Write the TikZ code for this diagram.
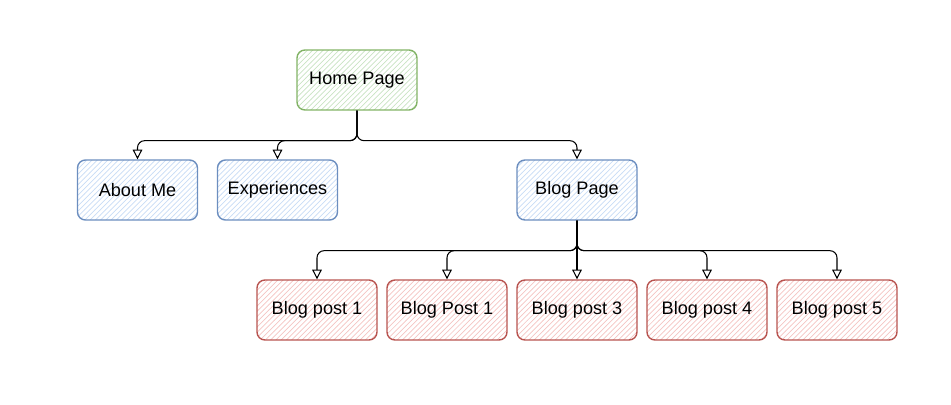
\documentclass[tikz,border=0pt]{standalone}
\usepackage{fontspec}
\setmainfont{Liberation Sans}
\usetikzlibrary{arrows.meta,patterns}
\definecolor{HomeLine}{HTML}{82B366}
\definecolor{HomeFill}{HTML}{C9E3C3}
\definecolor{PageLine}{HTML}{6C8EBF}
\definecolor{PageFill}{HTML}{C8DCF5}
\definecolor{PostLine}{HTML}{B85450}
\definecolor{PostFill}{HTML}{F4C4C2}
\tikzset{
    pagebox/.style={rectangle,rounded corners=4.5pt,thick,
        minimum width=2.4cm,minimum height=1.2cm,
        font=\fontsize{10.3}{12}\selectfont,pattern=north east lines},
    homebox/.style={pagebox,draw=HomeLine,pattern color=HomeFill},
    sitebox/.style={pagebox,draw=PageLine,pattern color=PageFill},
    postbox/.style={pagebox,draw=PostLine,pattern color=PostFill},
    conn/.style={-{Triangle[open,length=5.5pt,width=5.5pt]},semithick,rounded corners=4pt},
}
\newcommand\Branch[2]{%
    \draw[conn] (#1.south) -- ++(0,30) -| (#2.north);
}

\begin{document}
\begin{tikzpicture}[x=0.02cm,y=-0.02cm]
    \useasboundingbox (0,0) rectangle (951,405);
    % top
    \node[homebox] (home) at (357,80) {Home Page};
    % pages
    \node[sitebox] (about) at (137.5,190) {About Me};
    \node[sitebox] (exp) at (277.5,190) {Experiences};
    \node[sitebox] (blog) at (577,190) {Blog Page};
    % posts
    \foreach \x/\name/\txt in {317/postA/Blog post 1,447/postB/Blog Post 1,
        577/postC/Blog post 3,707/postD/Blog post 4,837/postE/Blog post 5}
        \node[postbox] (\name) at (\x,310) {\txt};
    % links
    \foreach \t in {about,exp,blog}
        {\Branch{home}{\t}}
    \foreach \t in {postA,postB,postC,postD,postE}
        {\Branch{blog}{\t}}
\end{tikzpicture}
\end{document}
